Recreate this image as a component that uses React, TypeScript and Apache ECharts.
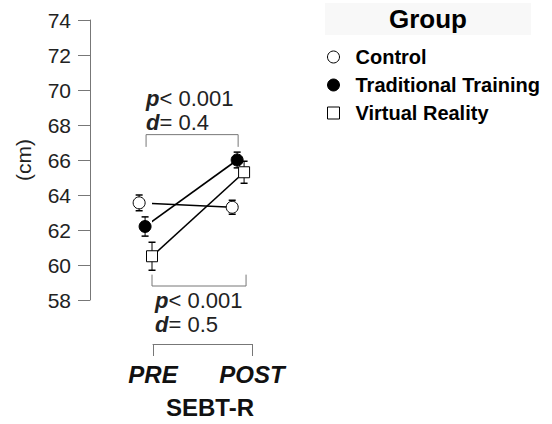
import React, { useEffect, useRef } from "react";
import * as echarts from "echarts";

const categories = ["PRE", "POST"];
const groups = ["Control", "Traditional Training", "Virtual Reality"];
const preMeans = [63.55, 62.2, 60.5];
const postMeans = [63.3, 66.0, 65.3];
const preErr = [0.45, 0.55, 0.8];
const postErr = [0.4, 0.45, 0.63];
// horizontal (dodged) positions of each group's point, in x-axis units (PRE = 1, POST = 2)
const preX = [0.86, 0.92, 0.99];
const postX = [1.8, 1.85, 1.92];
const yMin = 58;
const yMax = 74;
const yStep = 2;
// significance brackets: [x1, x2, bar value, end value]
const brackets = [
  [0.93, 1.86, 67.45, 66.75],
  [0.99, 1.94, 58.8, 59.45],
];
const pLabels = ["< 0.001", "< 0.001"];
const dLabels = ["0.4", "0.5"];

const FONT = "'Liberation Sans', Arial, Helvetica, sans-serif";

export default function App() {
  const ref = useRef<HTMLDivElement>(null);
  useEffect(() => {
    if (!ref.current) return;
    const chart = echarts.init(ref.current, null, { renderer: "svg" });

    const symbols = ["circle", "circle", "rect"];
    const fills = ["#ffffff", "#000000", "#ffffff"];
    const sizes = [12, 12, 11];

    const lineSeries = groups.map((g, i) => ({
      name: g,
      type: "line",
      data: [
        [preX[i], preMeans[i]],
        [postX[i], postMeans[i]],
      ],
      clip: false,
      symbol: symbols[i],
      symbolSize: sizes[i],
      showSymbol: true,
      itemStyle: { color: fills[i], borderColor: "#000", borderWidth: 1 },
      lineStyle: { color: "#000", width: 1.6 },
      z: 4,
      emphasis: { disabled: true },
    }));

    const errData: number[][] = [];
    groups.forEach((_, i) => {
      errData.push([preX[i], preMeans[i], preErr[i]]);
      errData.push([postX[i], postMeans[i], postErr[i]]);
    });

    const errSeries = {
      type: "custom",
      coordinateSystem: "cartesian2d",
      data: errData,
      z: 2,
      silent: true,
      renderItem: (params: any, api: any) => {
        const x = api.value(0);
        const y = api.value(1);
        const e = api.value(2);
        const t = api.coord([x, y + e]);
        const b = api.coord([x, y - e]);
        const w = 3.5;
        const st = { stroke: "#000", lineWidth: 1 };
        return {
          type: "group",
          children: [
            { type: "line", shape: { x1: t[0], y1: t[1], x2: b[0], y2: b[1] }, style: st },
            { type: "line", shape: { x1: t[0] - w, y1: t[1], x2: t[0] + w, y2: t[1] }, style: { stroke: "#000", lineWidth: 1.5 } },
            { type: "line", shape: { x1: b[0] - w, y1: b[1], x2: b[0] + w, y2: b[1] }, style: { stroke: "#000", lineWidth: 1.5 } },
          ],
        };
      },
    };

    const bracketSeries = {
      type: "custom",
      coordinateSystem: "cartesian2d",
      data: brackets,
      z: 1,
      silent: true,
      renderItem: (params: any, api: any) => {
        const i = params.dataIndex;
        const x1 = api.value(0);
        const x2 = api.value(1);
        const yb = api.value(2);
        const ye = api.value(3);
        const a = api.coord([x1, yb]);
        const b = api.coord([x2, yb]);
        const a2 = api.coord([x1, ye]);
        const b2 = api.coord([x2, ye]);
        const above = ye < yb;
        return {
          type: "group",
          children: [
            {
              type: "polyline",
              shape: { points: [a2, a, b, b2] },
              style: { stroke: "#777", lineWidth: 1, fill: "none" },
            },
            {
              type: "text",
              x: above ? a[0] : a[0] + 3,
              y: above ? a[1] : a[1] + 2,
              style: {
                text: `{i|p}{n|${pLabels[i]}}\n{i|d}{n|= ${dLabels[i]}}`,
                verticalAlign: above ? "bottom" : "top",
                align: "left",
                fill: "#222",
                rich: {
                  i: { fontFamily: FONT, fontSize: 22, fontWeight: "bold", fontStyle: "italic", lineHeight: 24, fill: "#222" },
                  n: { fontFamily: FONT, fontSize: 22, lineHeight: 24, fill: "#222" },
                },
              },
            },
          ],
        };
      },
    };

    chart.setOption({
      animation: false,
      backgroundColor: "#ffffff",
      title: {
        text: "Group",
        left: 325,
        top: 3,
        padding: [0, 64],
        backgroundColor: "#f8f8f8",
        textStyle: { fontFamily: FONT, fontSize: 26, fontWeight: "bold", color: "#000", lineHeight: 32 },
      },
      legend: {
        orient: "vertical",
        left: 322,
        top: 42,
        itemWidth: 12,
        itemHeight: 12,
        itemGap: 8,
        selectedMode: false,
        textStyle: { fontFamily: FONT, fontSize: 20, fontWeight: "bold", color: "#000", lineHeight: 20, padding: [0, 0, 0, 11] },
        data: groups.map((g, i) => ({
          name: g,
          icon: symbols[i],
          itemStyle: { color: fills[i], borderColor: "#000", borderWidth: 1 },
        })),
      },
      grid: { left: 153, top: 20, width: 99, height: 280 },
      xAxis: {
        type: "value",
        min: 1,
        max: 2,
        interval: 1,
        offset: 44,
        name: "SEBT-R",
        nameLocation: "middle",
        nameGap: 51,
        nameTextStyle: { fontFamily: FONT, fontSize: 24, fontWeight: "bold", color: "#111", padding: [0, 0, 0, 15] },
        axisLine: { show: true, lineStyle: { color: "#777", width: 1 } },
        axisTick: { show: true, length: 12, lineStyle: { color: "#777" } },
        splitLine: { show: false },
        axisLabel: {
          margin: 18,
          fontFamily: FONT,
          fontSize: 24,
          fontWeight: "bold",
          fontStyle: "italic",
          color: "#111",
          formatter: (v: number) => categories[Math.round(v) - 1] ?? "",
        },
      },
      yAxis: {
        type: "value",
        min: yMin,
        max: yMax,
        interval: yStep,
        offset: 63,
        name: "(cm)",
        nameLocation: "middle",
        nameGap: 56,
        nameTextStyle: { fontFamily: FONT, fontSize: 21, color: "#222" },
        axisLine: { show: true, lineStyle: { color: "#777", width: 1 } },
        axisTick: { show: true, length: 12, lineStyle: { color: "#777" } },
        splitLine: { show: false },
        axisLabel: { margin: 19, fontFamily: FONT, fontSize: 21, color: "#222" },
      },
      series: [bracketSeries, errSeries, ...lineSeries],
    });
    return () => chart.dispose();
  }, []);
  return <div ref={ref} style={{ position: "fixed", left: 0, top: 0, width: 552, height: 424 }} />;
}
